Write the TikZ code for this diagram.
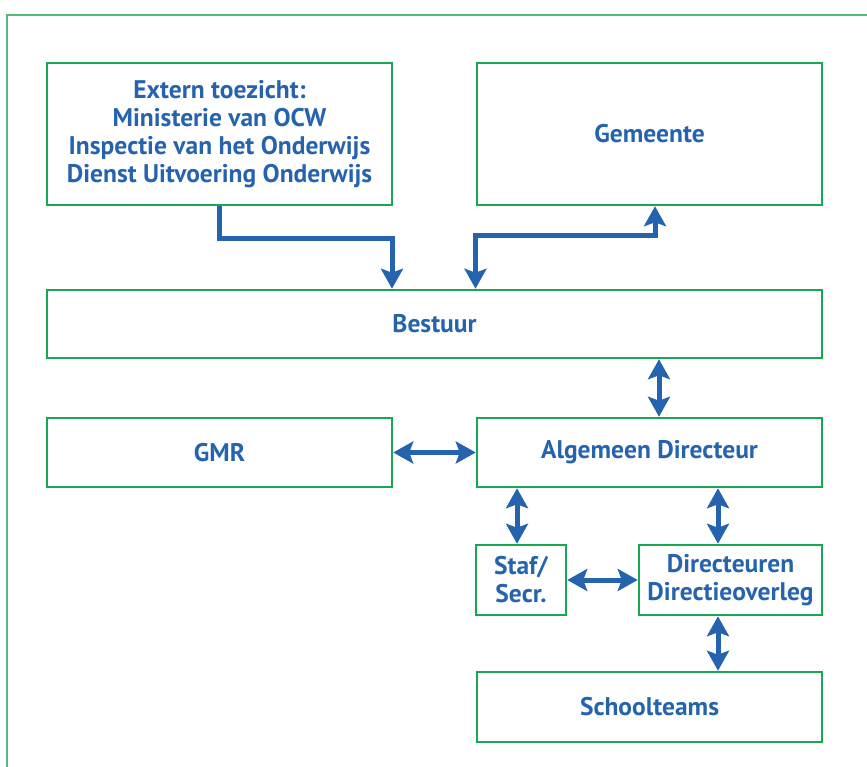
\documentclass[tikz,border=0pt]{standalone}
\usepackage{fontspec}
\setmainfont{PT Sans}
\usetikzlibrary{arrows.meta, positioning, calc}
\definecolor{boxGreen}{RGB}{24, 168, 84}
\definecolor{frameGreen}{RGB}{84, 186, 124}
\definecolor{orgBlue}{RGB}{38, 99, 175}

\begin{document}
\begin{tikzpicture}[
    x=1pt, y=-1pt,
    box/.style={rectangle, draw=boxGreen, line width=2.5pt, align=center, text=orgBlue, font=\fontsize{25.5}{28}\selectfont\bfseries, inner sep=0pt},
    wide/.style={box, minimum width=345pt, minimum height=69pt},
    arrow/.style={-{Stealth[length=20pt, width=22pt, inset=4pt]}, line width=5pt, orgBlue},
    dbl/.style={{Stealth[length=20pt, width=22pt, inset=4pt]}-{Stealth[length=20pt, width=22pt, inset=4pt]}, line width=5pt, orgBlue}
]
    \useasboundingbox (0,0) rectangle (867,767);
    % Outer frame
    \draw[frameGreen, line width=1.5pt] (7,767) -- (7,15) -- (867,15);

    % Top row
    \node[wide, minimum height=142pt] (ext) at (219.5,134) {Extern toezicht:\\Ministerie van OCW\\Inspectie van het Onderwijs\\Dienst Uitvoering Onderwijs};
    \node[wide, minimum height=142pt] (gem) at (649.5,134) {Gemeente};

    % Board
    \node[box, minimum width=775pt, minimum height=68pt] (bes) at (434.5,324) {Bestuur};

    % Middle row
    \node[wide] (gmr) at (219.5,452.5) {GMR};
    \node[wide] (alg) at (649.5,452.5) {Algemeen Directeur};

    % Lower row
    \node[box, minimum width=90pt, minimum height=70pt] (staf) at (521,580) {Staf/\\Secr.};
    \node[box, minimum width=183pt, minimum height=70pt] (dir) at (730.5,580) {Directeuren\\Directieoverleg};
    \node[wide, minimum height=70pt] (sch) at (649.5,707) {Schoolteams};

    % Arrows
    \draw[arrow] (ext.south) -- ++(0,32) -| ([xshift=-42.5pt]bes.north);
    \draw[dbl] ([xshift=41pt]bes.north) -- ++(0,-53) -| ([xshift=5.5pt]gem.south);
    \draw[dbl] ([xshift=9.5pt]alg.north |- bes.south) -- ([xshift=9.5pt]alg.north);
    \draw[dbl] (gmr.east) -- (alg.west);
    \draw[dbl] ([xshift=-4pt]staf.north) -- ([xshift=-4pt]staf.north |- alg.south);
    \draw[dbl] ([xshift=-12.5pt]dir.north) -- ([xshift=-12.5pt]dir.north |- alg.south);
    \draw[dbl] (staf.east) -- (dir.west);
    \draw[dbl] ([xshift=-12.5pt]dir.south) -- ([xshift=-12.5pt]dir.south |- sch.north);

\end{tikzpicture}
\end{document}
